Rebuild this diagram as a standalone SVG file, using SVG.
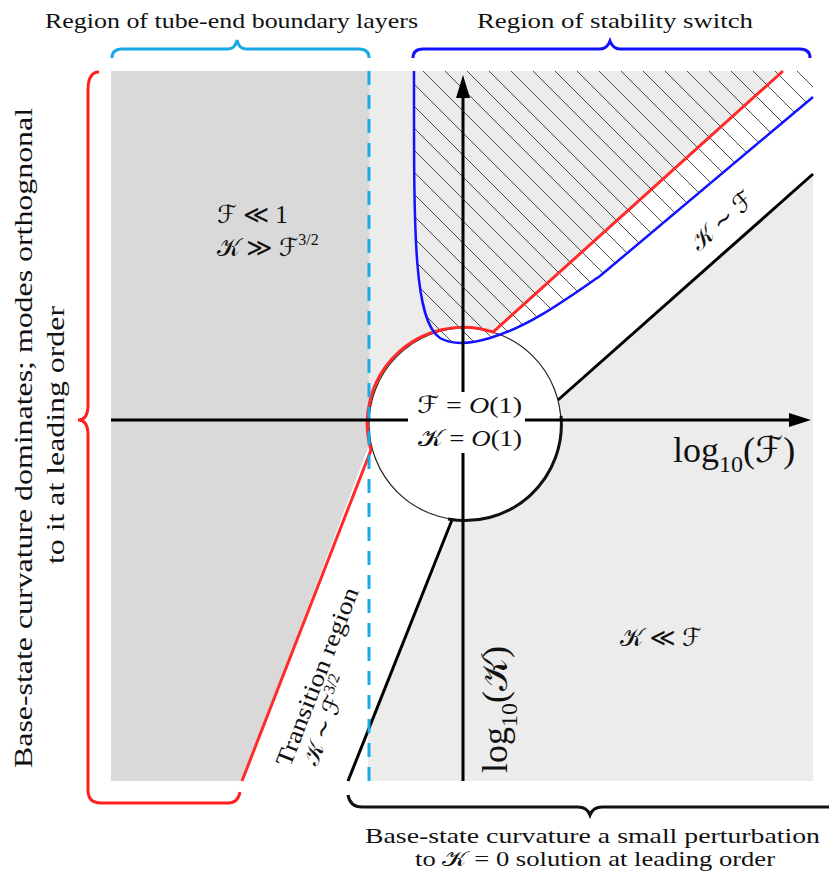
<svg xmlns="http://www.w3.org/2000/svg" width="829" height="871" viewBox="0 0 829 871">
<style>
.t{font-family:"Liberation Serif","DejaVu Serif",serif;fill:#111;}
.m{font-family:"Liberation Serif","DejaVu Serif","DejaVu Sans","Noto Sans CJK SC",serif;fill:#111;}
.ax{stroke:#000;stroke-width:3;fill:none;}
.bl{stroke:#000;stroke-width:3;fill:none;}
.red{stroke:#ff2b2b;stroke-width:3;fill:none;}
.blue{stroke:#1212ff;stroke-width:2.5;fill:none;}
.cyan{stroke:#1aa9e4;stroke-width:3;fill:none;}
</style>
<defs>
<pattern id="hatch" patternUnits="userSpaceOnUse" width="22" height="22">
<path d="M-2,-2 L24,24" stroke="#3a3a3a" stroke-width="0.9"/>
</pattern>
</defs>
<rect width="829" height="871" fill="#fff"/>
<g id="regions">
<rect x="368" y="71" width="445" height="710" fill="#ececec"/>
<polygon points="111,71 369,71 369,452 242,781 111,781" fill="#d9d9d9"/>
<polygon points="371,440 242,781 348,781 455,520 465,424" fill="#fff"/>
<polygon points="493,330 783,71 813,71 813,174 558,400 465,424" fill="#fff"/>
<circle cx="465" cy="424" r="96" fill="#fff"/>
<path d="M414,71 C414,230 413,320 440,338 C452,345 470,344 490,338 C530,326 565,300 600,276 L813,97 L813,71 Z" fill="url(#hatch)"/>
</g>
<g id="connectors">
<line class="bl" x1="452" y1="520" x2="348" y2="781"/>
<line class="bl" x1="558" y1="400" x2="813" y2="174"/>
<circle cx="465" cy="424" r="96" fill="none" stroke="#222" stroke-width="1.2"/>
<path d="M561,416 A96,96 0 0 1 448,519" stroke="#111" stroke-width="3" fill="none"/>
<path class="red" d="M242,781 L371,450 A96,96 0 0 1 493,332 L783,71"/>
<path class="blue" d="M414,71 C414,230 413,320 440,338 C452,345 470,344 490,338 C530,326 565,300 600,276 L813,97"/>
<line class="cyan" x1="369" y1="71" x2="369" y2="781" stroke-dasharray="14 10"/>
<path class="ax" d="M111,420 L408,420 M525,420 L791,420 M463,781 L463,453 M463,392 L463,97"/>
<polygon points="789,413 811,420 789,427" fill="#000"/>
<polygon points="456,98 463,75 470,98" fill="#000"/>
</g>
<g id="braces">
<path class="cyan" d="M112,58 Q112,49 122,49 L228,49 Q235,49 237,40 Q239,49 246,49 L359,49 Q369,49 369,58"/>
<path d="M413,58 Q413,49 423,49 L600,49 Q607,49 610,41 Q613,49 620,49 L800,49 Q810,49 810,58" stroke="#1212ff" stroke-width="3" fill="none"/>
<path d="M99,72 Q88,72 88,90 L88,405 Q88,420 78,420 Q88,420 88,435 L88,790 Q88,803 101,803 L228,803 Q238,803 240,792" stroke="#ff2020" stroke-width="3" fill="none"/>
<path d="M348,795 Q350,807 362,807 L578,807 Q587,807 590,815 Q593,807 602,807 L829,807" stroke="#111" stroke-width="3" fill="none"/>
</g>
<g id="labels">
<text class="t" x="45" y="28" font-size="22" textLength="373" lengthAdjust="spacingAndGlyphs">Region of tube-end boundary layers</text>
<text class="t" x="477" y="28" font-size="22" textLength="276" lengthAdjust="spacingAndGlyphs">Region of stability switch</text>
<text class="t" x="365" y="843" font-size="22" textLength="455" lengthAdjust="spacingAndGlyphs">Base-state curvature a small perturbation</text>
<text class="m" x="415" y="866" font-size="21" textLength="360" lengthAdjust="spacingAndGlyphs">to 𝒦 = 0 solution at leading order</text>
<text class="t" transform="translate(32,438) rotate(-90)" text-anchor="middle" font-size="25" textLength="660" lengthAdjust="spacingAndGlyphs">Base-state curvature dominates; modes orthognonal</text>
<text class="t" transform="translate(64,435) rotate(-90)" text-anchor="middle" font-size="25" textLength="258" lengthAdjust="spacingAndGlyphs">to it at leading order</text>
</g>
<g id="node-circle">
<text class="m" x="417" y="413" font-size="24" textLength="105" lengthAdjust="spacingAndGlyphs">ℱ = <tspan font-style="italic">O</tspan>(1)</text>
<text class="m" x="418" y="446" font-size="24" textLength="104" lengthAdjust="spacingAndGlyphs">𝒦  = <tspan font-style="italic">O</tspan>(1)</text>
</g>
<g id="node-left">
<text class="m" x="217" y="223" font-size="25">ℱ ≪ 1</text>
<text class="m" x="217" y="256" font-size="25">𝒦 ≫ ℱ<tspan font-size="16" dy="-11">3/2</tspan></text>
</g>
<g id="node-lower-right">
<text class="m" x="661" y="646" font-size="25" text-anchor="middle">𝒦 ≪ ℱ</text>
</g>
<g id="node-kf">
<text class="m" transform="translate(722,221) rotate(-41.5)" y="8" font-size="25" text-anchor="middle">𝒦 ∼ ℱ</text>
</g>
<g id="node-transition">
<text class="t" transform="translate(318,677) rotate(-68.7)" y="7" font-size="24" text-anchor="middle" textLength="190" lengthAdjust="spacingAndGlyphs">Transition region</text>
<text class="m" transform="translate(327,721) rotate(-68.7)" y="7" font-size="24" text-anchor="middle">𝒦 ∼ ℱ<tspan font-size="16" dy="-11">3/2</tspan></text>
</g>
<g id="axis-labels">
<text class="m" x="673" y="462" font-size="36">log<tspan font-size="24" dy="10">10</tspan><tspan dy="-10">(ℱ)</tspan></text>
<text class="m" transform="translate(507,773) rotate(-90)" font-size="36">log<tspan font-size="24" dy="10">10</tspan><tspan dy="-10">(𝒦)</tspan></text>
</g>
</svg>
